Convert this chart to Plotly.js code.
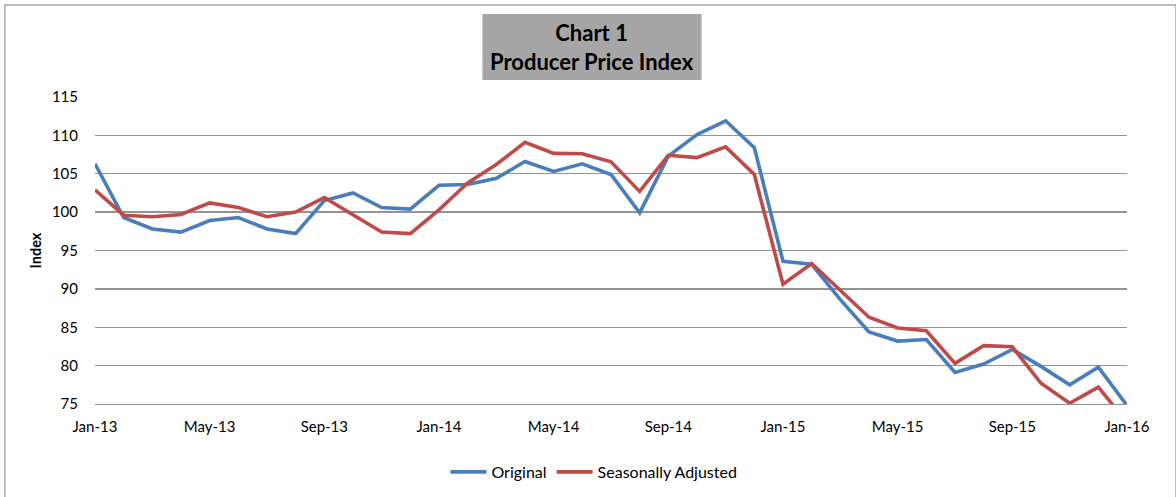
<!DOCTYPE html>
<html>
<head>
<meta charset="utf-8">
<script src="https://cdn.plot.ly/plotly-3.0.1.min.js"></script>
<style>
  html, body { margin: 0; padding: 0; background: #ffffff; }
  #chart { width: 1176px; height: 497px; }
</style>
</head>
<body>
<div id="chart"></div>
<script>
const months = [
  "Jan-13","Feb-13","Mar-13","Apr-13","May-13","Jun-13","Jul-13","Aug-13","Sep-13","Oct-13","Nov-13","Dec-13",
  "Jan-14","Feb-14","Mar-14","Apr-14","May-14","Jun-14","Jul-14","Aug-14","Sep-14","Oct-14","Nov-14","Dec-14",
  "Jan-15","Feb-15","Mar-15","Apr-15","May-15","Jun-15","Jul-15","Aug-15","Sep-15","Oct-15","Nov-15","Dec-15",
  "Jan-16"
];
const original = [
  106.3, 99.3, 97.8, 97.4, 98.9, 99.3, 97.8, 97.2, 101.5, 102.5, 100.6, 100.4,
  103.5, 103.6, 104.4, 106.6, 105.3, 106.3, 104.9, 99.9, 107.3, 110.1, 111.9, 108.4,
  93.6, 93.2, 88.6, 84.4, 83.2, 83.4, 79.1, 80.2, 82.1, 79.9, 77.5, 79.8,
  74.8
];
const seasonallyAdjusted = [
  102.9, 99.6, 99.4, 99.7, 101.2, 100.6, 99.4, 100.0, 101.9, 99.7, 97.4, 97.2,
  100.3, 103.8, 106.2, 109.1, 107.65, 107.6, 106.55, 102.7, 107.4, 107.1, 108.5, 104.9,
  90.6, 93.3, 89.8, 86.3, 84.9, 84.55, 80.3, 82.6, 82.45, 77.7, 75.1, 77.2,
  72.6
];
const yTicks = [75, 80, 85, 90, 95, 100, 105, 110, 115];
const xTicks = months.filter((m, i) => i % 4 === 0);

const FONT = "Lato, 'Open Sans', sans-serif";

const traces = [
  {
    x: months, y: original, name: "Original", type: "scatter", mode: "lines",
    line: { color: "#4a7ebb", width: 3.6 }
  },
  {
    x: months, y: seasonallyAdjusted, name: "Seasonally Adjusted", type: "scatter", mode: "lines",
    line: { color: "#be4b48", width: 3.6 }
  }
];

const layout = {
  width: 1176, height: 497,
  margin: { l: 95, r: 49, t: 97, b: 93, autoexpand: false },
  paper_bgcolor: "#ffffff",
  plot_bgcolor: "#ffffff",
  font: { family: FONT, size: 15, color: "#000000" },
  showlegend: true,
  legend: {
    orientation: "h", x: 0.4835, xanchor: "center", y: -0.2215, yanchor: "middle",
    font: { family: FONT, size: 16, color: "#000000" },
    itemwidth: 36,
    traceorder: "normal"
  },
  xaxis: {
    type: "category",
    range: [0, 36],
    tickmode: "array",
    tickvals: xTicks,
    ticktext: xTicks,
    showgrid: false,
    showline: true, linecolor: "#939393", linewidth: 1.3,
    ticks: "",
    ticklabelstandoff: 9,
    tickfont: { family: FONT, size: 15, color: "#000000" },
    automargin: false,
    fixedrange: true
  },
  yaxis: {
    range: [75, 115],
    tickmode: "array",
    tickvals: yTicks,
    showgrid: true, gridcolor: "#939393", gridwidth: 1.3,
    zeroline: false,
    showline: false,
    ticks: "",
    ticklabelstandoff: 16,
    tickfont: { family: FONT, size: 15, color: "#000000" },
    title: { text: "<b>Index</b>", font: { family: FONT, size: 14.5, color: "#000000" }, standoff: 6 },
    automargin: false,
    fixedrange: true
  },
  shapes: [
    {
      type: "rect", xref: "paper", yref: "paper",
      x0: -0.0873, x1: 1.0475, y0: -0.33, y1: 1.2997,
      line: { color: "#a6a6a6", width: 1.5 }, fillcolor: "rgba(0,0,0,0)", layer: "below"
    },
    {
      type: "rect", xref: "paper", yref: "paper",
      x0: 0.3754, x1: 0.5878, y0: 1.0554, y1: 1.2704,
      line: { width: 0 }, fillcolor: "#a6a6a6", layer: "below"
    }
  ],
  annotations: [
    {
      xref: "paper", yref: "paper", x: 0.4816, y: 1.163,
      xanchor: "center", yanchor: "middle", showarrow: false,
      text: "<b>Chart 1</b><br><b>Producer Price Index</b>",
      font: { family: FONT, size: 22, color: "#000000" }
    }
  ]
};

Plotly.newPlot("chart", traces, layout, { displayModeBar: false, staticPlot: true });
</script>
</body>
</html>
